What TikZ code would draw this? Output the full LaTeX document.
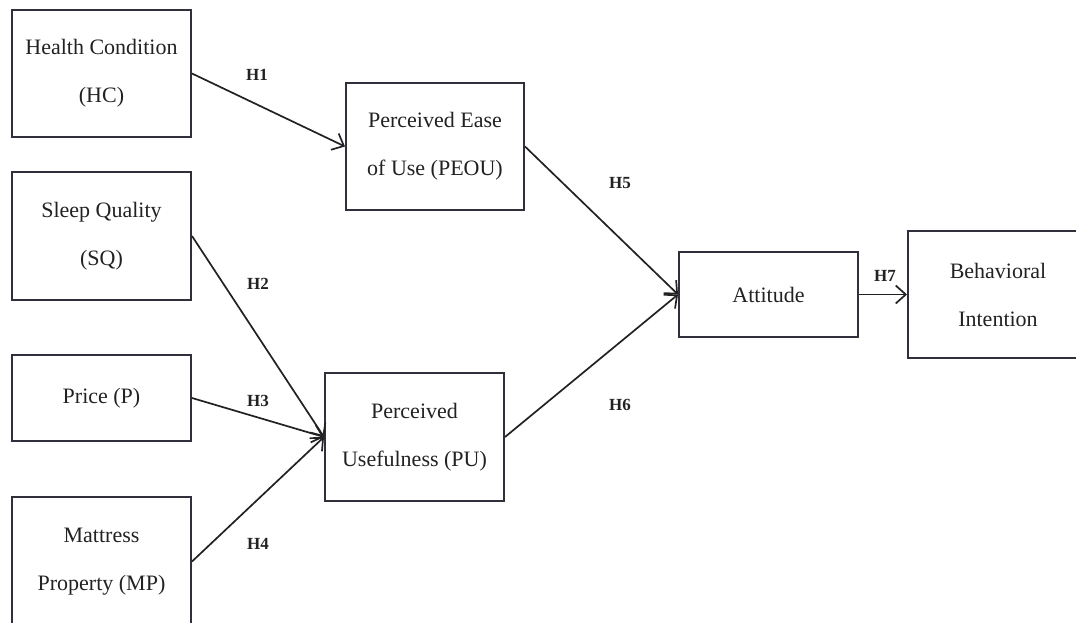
\documentclass[tikz,border=0pt]{standalone}
\usepackage{fontspec}
\setmainfont{Liberation Serif}
\usetikzlibrary{arrows.meta}
\definecolor{boxline}{HTML}{30303C}
\definecolor{txt}{HTML}{222222}
\tikzset{
  box/.style={draw=boxline, line width=2pt, inner sep=0pt, align=center,
    text=txt, font=\fontsize{22}{48}\selectfont},
  hyp/.style={font=\fontsize{17}{17}\selectfont\bfseries, text=txt, inner sep=0pt},
  link/.style={draw=txt, line width=1.7pt, -{Straight Barb[length=10pt,width=18pt,line width=1.7pt]}}
}
\begin{document}
\begin{tikzpicture}[x=1pt,y=-1pt]
\useasboundingbox (0,0) rectangle (1076,623);
\clip (0,0) rectangle (1076,623);
\fill[white] (0,0) rectangle (1076,623);
\node[box, minimum width=179pt, minimum height=127pt] (HC) at (101.5,73.5) {Health Condition\\(HC)};
\node[box, minimum width=179pt, minimum height=128pt] (SQ) at (101.5,236) {Sleep Quality\\(SQ)};
\node[box, minimum width=179pt, minimum height=86pt] (P) at (101.5,398) {Price (P)};
\node[box, minimum width=179pt, minimum height=129pt] (MP) at (101.5,561.5) {Mattress\\Property (MP)};
\node[box, minimum width=178pt, minimum height=127pt] (PEOU) at (435,146.5) {Perceived Ease\\of Use (PEOU)};
\node[box, minimum width=179pt, minimum height=128pt] (PU) at (414.5,437) {Perceived\\Usefulness (PU)};
\node[box, minimum width=179pt, minimum height=85pt] (ATT) at (768.5,294.5) {Attitude};
\node[box, minimum width=180pt, minimum height=127pt] (BI) at (998,294.5) {Behavioral\\Intention};
\draw[link] (HC.east) -- (PEOU.west);
\draw[link] (SQ.east) -- (PU.west);
\draw[link] (P.east) -- (PU.west);
\draw[link] (MP.east) -- (PU.west);
\draw[link] (PEOU.east) -- (ATT.west);
\draw[link] (PU.east) -- (ATT.west);
\draw[link] (ATT.east) -- (BI.west);
\node[hyp] (H1) at (257,75) {H1};
\node[hyp] (H2) at (258,284) {H2};
\node[hyp] (H3) at (258,401) {H3};
\node[hyp] (H4) at (258,544) {H4};
\node[hyp] (H5) at (620,183) {H5};
\node[hyp] (H6) at (620,405) {H6};
\node[hyp] (H7) at (885,276) {H7};
\end{tikzpicture}
\end{document}
